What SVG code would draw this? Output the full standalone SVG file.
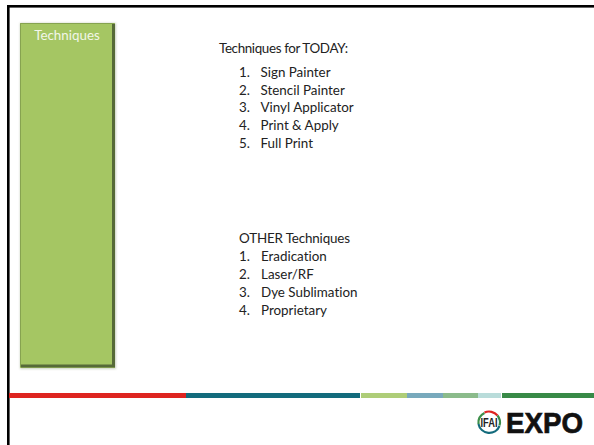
<svg xmlns="http://www.w3.org/2000/svg" width="594" height="445" viewBox="0 0 594 445">
<defs>
<style>
.t{font-family:Lato,"Liberation Sans",sans-serif;font-size:13.4px;fill:#222;font-variant-ligatures:none}
</style>
<filter id="s" x="-5%" y="-5%" width="110%" height="110%"><feGaussianBlur stdDeviation="1"/></filter>
<filter id="b" x="-5%" y="-5%" width="110%" height="110%"><feGaussianBlur stdDeviation="0.7"/></filter>
</defs>
<rect width="594" height="445" fill="#fff"/>
<g id="frame">
<rect x="7" y="5" width="587" height="2.6" fill="#000"/>
<rect x="7" y="5" width="2.6" height="440" fill="#000"/>
</g>
<g id="bar">
<rect x="9" y="393" width="177" height="5" fill="#de2420"/>
<rect x="186" y="393" width="174" height="5" fill="#136b7c"/>
<rect x="361" y="393" width="46" height="5" fill="#aecd78"/>
<rect x="407" y="393" width="36" height="5" fill="#78a9bc"/>
<rect x="443" y="393" width="35" height="5" fill="#8bbb8b"/>
<rect x="478" y="393" width="23" height="5" fill="#b9dcda"/>
<rect x="502" y="393" width="92" height="5" fill="#388a47"/>
</g>
<g id="techniques">
<rect x="20" y="23" width="96" height="346" fill="#8a9a70" opacity=".45" filter="url(#s)"/>
<rect x="20" y="23" width="95" height="345" fill="#a5c663"/>
<path d="M20.500 367V23.500H114.500" fill="none" stroke="#86a350" stroke-width="1"/>
<path d="M21 366H113.500V24" fill="none" stroke="#566b38" stroke-width="3" filter="url(#b)"/>
<text x="67" y="40" text-anchor="middle" style="font-family:Lato,'Liberation Sans',sans-serif;font-size:13.4px;fill:#f2f6e8;font-variant-ligatures:none">Techniques</text>
</g>
<g id="today">
<text class="t" x="219" y="53" textLength="129">Techniques for TODAY:</text>
<text class="t" x="239" y="77">1.</text><text class="t" x="260.500" y="77">Sign Painter</text>
<text class="t" x="239" y="95">2.</text><text class="t" x="260.500" y="95">Stencil Painter</text>
<text class="t" x="239" y="112">3.</text><text class="t" x="260.500" y="112">Vinyl Applicator</text>
<text class="t" x="239" y="130">4.</text><text class="t" x="260.500" y="130">Print &amp; Apply</text>
<text class="t" x="239" y="148">5.</text><text class="t" x="260.500" y="148">Full Print</text>
</g>
<g id="other">
<text class="t" x="239" y="243" textLength="111">OTHER Techniques</text>
<text class="t" x="239" y="261">1.</text><text class="t" x="261" y="261">Eradication</text>
<text class="t" x="239" y="279">2.</text><text class="t" x="261" y="279">Laser/RF</text>
<text class="t" x="239" y="297">3.</text><text class="t" x="261" y="297">Dye Sublimation</text>
<text class="t" x="239" y="315">4.</text><text class="t" x="261" y="315">Proprietary</text>
</g>
<g id="logo">
<circle cx="489" cy="422.500" r="9.500" fill="#fff"/>
<path d="M478.500 424a11 11 0 0 1 6-11" fill="none" stroke="#3d8f4a" stroke-width="2.200"/>
<path d="M484.500 412.500a11 11 0 0 1 13 3" fill="none" stroke="#de2420" stroke-width="2.200"/>
<path d="M497.500 415.500a11 11 0 0 1 2 10" fill="none" stroke="#388a47" stroke-width="2.200"/>
<path d="M499.500 426a11 11 0 0 1-21-2" fill="none" stroke="#136b7c" stroke-width="2.200"/>
<text x="489" y="427" text-anchor="middle" style="font-family:'Liberation Sans',sans-serif;font-size:12px;font-weight:700;fill:#222" textLength="17" lengthAdjust="spacingAndGlyphs">IFAI</text>
<text x="506" y="433" style="font-family:'Liberation Sans',sans-serif;font-size:30px;font-weight:700;fill:#111;stroke:#111;stroke-width:.7" textLength="77" lengthAdjust="spacingAndGlyphs">EXPO</text>
</g>
</svg>
